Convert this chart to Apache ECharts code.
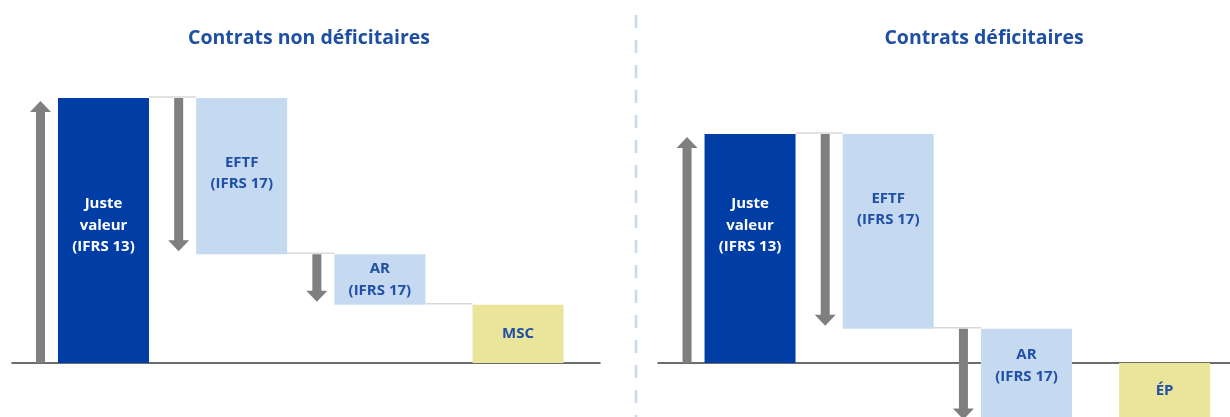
<!DOCTYPE html>
<html><head><meta charset="utf-8">
<script src="https://cdn.jsdelivr.net/npm/echarts@6/dist/echarts.min.js"></script>
<style>html,body{margin:0;padding:0;background:#fff}#c{width:1230px;height:417px}</style>
</head><body><div id="c"></div>
<script>
// ---------- data ----------
const titles = ['Contrats non déficitaires', 'Contrats déficitaires'];
const categoriesLeft = ['Juste\nvaleur\n(IFRS 13)', 'EFTF\n(IFRS 17)', 'AR\n(IFRS 17)', 'MSC'];
const categoriesRight = ['Juste\nvaleur\n(IFRS 13)', 'EFTF\n(IFRS 17)', 'AR\n(IFRS 17)', 'ÉP'];
const valuesLeft = [100, -59, -19, 22];
const valuesRight = [100, -85, -41, -26];
const kinds = ['total', 'delta', 'delta', 'total'];

// ---------- styles ----------
const barColors = ['#003DA5', '#C5D9F1', '#C5D9F1', '#EBE59C'];
const labelColors = ['#FFFFFF', '#1F50A6', '#1F50A6', '#1F50A6'];
const labelShiftLeft = [-5, -3, 0, 0];
const labelShiftRight = [-23, -22, -10, -2];
const BAR_W = 91, ARROW_GAP = 17.5, SHAFT = 9, HEAD_W = 21, HEAD_L = 11, TIP_INSET = 3;

function build(values) {
  const bars = [], arrows = [], connectors = [];
  let running = 0;
  values.forEach((v, i) => {
    const x = i + 1;
    if (kinds[i] === 'total') {
      bars.push([x, 0, v]);
      if (i === 0) { arrows.push([x, 0, v]); running = v; }
    } else {
      bars.push([x, running, running + v]);
      arrows.push([x, running, running + v]);
      running += v;
    }
    if (i < values.length - 1) connectors.push([x, running]);
  });
  return { bars, arrows, connectors };
}

function barRender(labels, shifts) {
  return function (params, api) {
    const x = api.value(0), lo = api.value(1), hi = api.value(2);
    const p0 = api.coord([x, lo]), p1 = api.coord([x, hi]);
    const top = Math.min(p0[1], p1[1]), h = Math.abs(p0[1] - p1[1]);
    const i = params.dataIndex;
    return {
      type: 'group',
      children: [
        { type: 'rect', shape: { x: p0[0] - BAR_W / 2, y: top, width: BAR_W, height: h }, style: { fill: barColors[i] } },
        { type: 'text', style: { text: labels[i], x: p0[0], y: top + h / 2 + shifts[i], align: 'center', verticalAlign: 'middle',
            fill: labelColors[i], fontFamily: 'Open Sans', fontWeight: 'bold', fontSize: 15, lineHeight: 21.5 } }
      ]
    };
  };
}

function arrowRender(params, api) {
  const x = api.value(0), from = api.value(1), to = api.value(2);
  const a = api.coord([x, from]), b = api.coord([x, to]);
  const cx = a[0] - BAR_W / 2 - ARROW_GAP;
  const dir = b[1] < a[1] ? -1 : 1;
  const tipY = b[1] - dir * TIP_INSET;
  const baseY = tipY - dir * HEAD_L;
  const pts = [
    [cx - SHAFT / 2, a[1]], [cx - SHAFT / 2, baseY], [cx - HEAD_W / 2, baseY], [cx, tipY],
    [cx + HEAD_W / 2, baseY], [cx + SHAFT / 2, baseY], [cx + SHAFT / 2, a[1]]
  ];
  return { type: 'polygon', shape: { points: pts }, style: { fill: '#7F7F7F' } };
}

function connRender(params, api) {
  const x = api.value(0), lvl = api.value(1);
  const a = api.coord([x, lvl]), b = api.coord([x + 1, lvl]);
  return { type: 'line', shape: { x1: a[0] + BAR_W / 2, y1: a[1] - 1, x2: b[0] - BAR_W / 2, y2: b[1] - 1 },
           style: { stroke: '#D9D9D9', lineWidth: 1.5 } };
}

const L = build(valuesLeft), R = build(valuesRight);

const hiddenY = (gi, min, max) => ({ type: 'value', gridIndex: gi, min, max, show: false, splitLine: { show: false } });
const baseX = (gi, min, max) => ({
  type: 'value', gridIndex: gi, min, max,
  axisLine: { show: true, onZero: true, lineStyle: { color: '#3C3C3C', width: 1.5 } },
  axisTick: { show: false }, axisLabel: { show: false }, splitLine: { show: false }
});

const titleStyle = { color: '#1F4FA3', fontFamily: 'Open Sans', fontWeight: 'bold', fontSize: 19.5 };

const chart = echarts.init(document.getElementById('c'));
chart.setOption({
  backgroundColor: '#ffffff',
  animation: false,
  title: [
    { text: titles[0], left: 304, top: 23, textAlign: 'center', textStyle: titleStyle },
    { text: titles[1], left: 979, top: 23, textAlign: 'center', textStyle: titleStyle }
  ],
  grid: [
    { left: 12, width: 588, top: 98, bottom: 54 },
    { left: 658, right: 0, top: 134, bottom: 0 }
  ],
  xAxis: [baseX(0, 0.338, 4.593), baseX(1, 0.334, 4.473)],
  yAxis: [hiddenY(0, 0, 100), hiddenY(1, -23.58, 100)],
  graphic: [
    { type: 'line', shape: { x1: 636, y1: 15, x2: 636, y2: 417 },
      style: { stroke: '#C5D9F1', lineWidth: 2.5, lineDash: [13, 12] }, silent: true }
  ],
  series: [
    { type: 'custom', xAxisIndex: 0, yAxisIndex: 0, data: L.connectors, renderItem: connRender, silent: true },
    { type: 'custom', xAxisIndex: 0, yAxisIndex: 0, data: L.bars, renderItem: barRender(categoriesLeft, labelShiftLeft), silent: true },
    { type: 'custom', xAxisIndex: 0, yAxisIndex: 0, data: L.arrows, renderItem: arrowRender, silent: true },
    { type: 'custom', xAxisIndex: 1, yAxisIndex: 1, data: R.connectors, renderItem: connRender, silent: true },
    { type: 'custom', xAxisIndex: 1, yAxisIndex: 1, data: R.bars, renderItem: barRender(categoriesRight, labelShiftRight), silent: true },
    { type: 'custom', xAxisIndex: 1, yAxisIndex: 1, data: R.arrows, renderItem: arrowRender, silent: true }
  ]
});
</script></body></html>
